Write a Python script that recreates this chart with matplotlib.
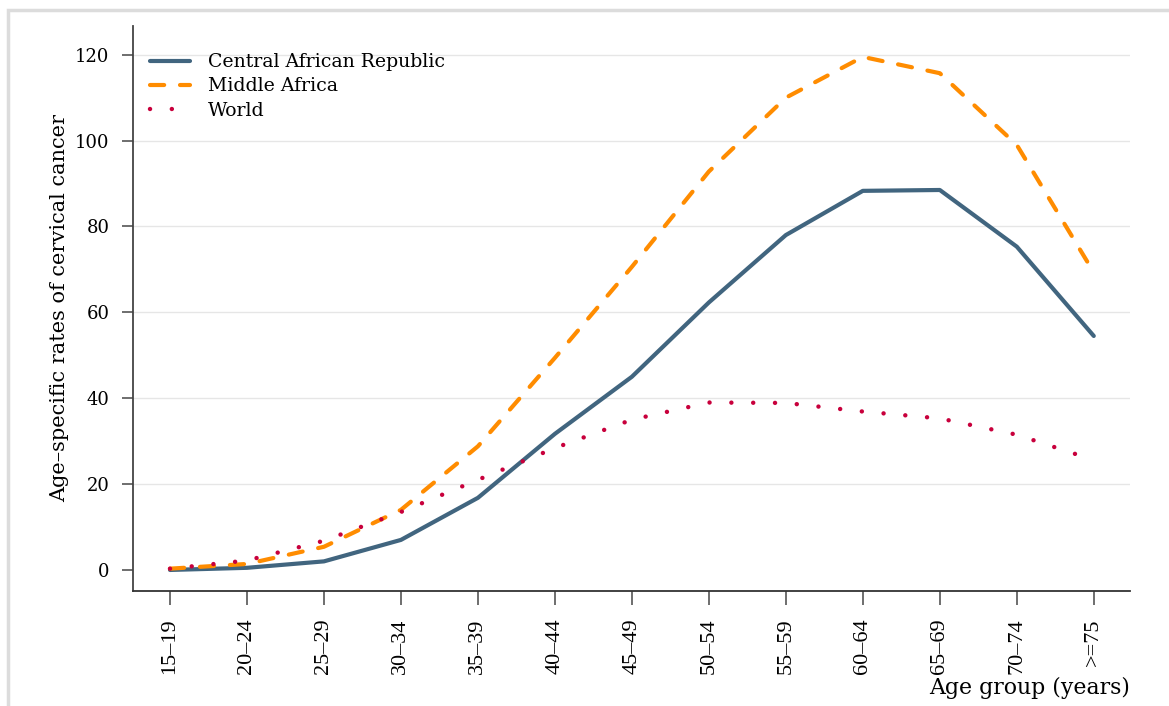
import matplotlib.pyplot as plt
from matplotlib.patches import Rectangle

# Age groups and age-specific rates (per 100,000)
age_groups = ['15–19', '20–24', '25–29', '30–34', '35–39', '40–44', '45–49',
              '50–54', '55–59', '60–64', '65–69', '70–74', '>=75']
car = [0.0, 0.5, 2.0, 7.0, 16.8, 31.7, 45.0, 62.3, 78.0, 88.3, 88.5, 75.3, 54.5]
middle_africa = [0.3, 1.4, 5.4, 14.0, 28.8, 49.4, 70.6, 92.8, 110.0, 119.5, 115.7, 99.0, 69.3]
world = [0.3, 2.2, 6.8, 13.5, 21.0, 28.4, 35.0, 39.0, 38.9, 36.9, 35.3, 31.5, 25.6]

plt.rcParams['font.family'] = ['DejaVu Serif']

fig = plt.figure(figsize=(11.69, 7.06), dpi=100)
ax = fig.add_axes([0.1138, 0.1629, 0.8528, 0.8003])

# outer frame of the (cropped) graph region
fig.patches.append(Rectangle((8 / 1169, -0.1), 1.2, 1 - 10 / 706 + 0.1,
                             transform=fig.transFigure, fill=False,
                             edgecolor='#dcdcdc', linewidth=2.5))

x = list(range(len(age_groups)))

ax.plot(x, car, color='#41657f', linewidth=3, solid_capstyle='round',
        solid_joinstyle='round', label='Central African Republic', zorder=3)
ax.plot(x, middle_africa, color='#ff8c00', linewidth=3, dashes=(3.4, 3.8),
        dash_capstyle='round', label='Middle Africa', zorder=3)
ax.plot(x, world, color='#c8003c', linewidth=3.2, dashes=(0.01, 4.9),
        dash_capstyle='round', label='World', zorder=3)

ax.set_xlim(-0.48, 12.47)
ax.set_ylim(-4.9, 126.7)
ax.set_xticks(x)
ax.set_xticklabels(age_groups, rotation=90, fontsize=16, family='Liberation Serif')
ax.set_yticks([0, 20, 40, 60, 80, 100, 120])
ax.tick_params(axis='y', labelsize=13, length=8, width=1.2, color='#555555', pad=9)
ax.tick_params(axis='x', length=10, width=1.2, color='#555555', pad=10)

for val in [20, 40, 60, 80, 100, 120]:
    ax.axhline(val, color='#e6e6e6', linewidth=1, zorder=1)

for side in ['top', 'right']:
    ax.spines[side].set_visible(False)
ax.spines['left'].set_color('#444444')
ax.spines['bottom'].set_color('#333333')
ax.spines['left'].set_linewidth(1.3)
ax.spines['bottom'].set_linewidth(1.3)

ax.set_ylabel('Age–specific rates of cervical cancer', fontsize=15, labelpad=4)
ax.set_xlabel('Age group (years)', fontsize=15.8, loc='right', labelpad=2)

ax.legend(loc='upper left', frameon=False, fontsize=13.6, handlelength=2.1,
          handletextpad=0.95, labelspacing=0.33, borderaxespad=0.5,
          bbox_to_anchor=(0.0, 0.982))

fig.savefig('out.png', dpi=100)
